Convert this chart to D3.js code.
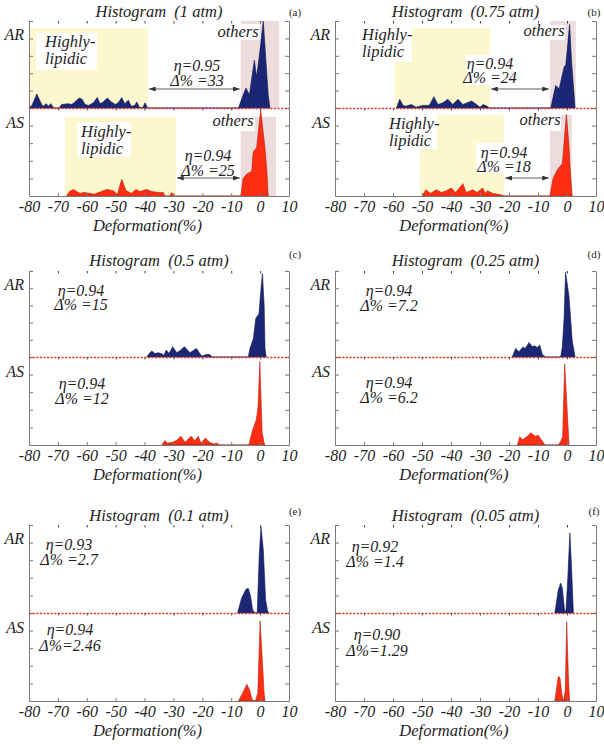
<!DOCTYPE html>
<html><head><meta charset="utf-8">
<script src="https://cdn.jsdelivr.net/npm/d3@7"></script>
<style>
body{margin:0;background:#fff;}
svg{display:block;}
text{font-family:"Liberation Serif","Times New Roman",serif;fill:#1e1e1e;}
</style>
</head><body>
<svg id="c" width="604" height="744"></svg>
<script>
// ---------------- data ----------------
const xTicks = [-80,-70,-60,-50,-40,-30,-20,-10,0,10];
const pressures = ["1 atm","0.75 atm","0.5 atm","0.25 atm","0.1 atm","0.05 atm"];
const letters = ["(a)","(b)","(c)","(d)","(e)","(f)"];
const seriesNames = ["AR","AS"];
const etaAR = [0.95,0.94,0.94,0.94,0.93,0.92];
const deltaAR = [33,24,15,7.2,2.7,1.4];
const etaAS = [0.94,0.94,0.94,0.94,0.94,0.90];
const deltaAS = [25,18,12,6.2,2.46,1.29];

// histogram profiles: [deformation %, relative frequency]
const arA = [[-80,0],[-79,0.03],[-77.3,0.16],[-75.6,0.04],[-75,0.02],[-74.1,0.05],[-73.2,0.02],[-72.5,0.05],[-71.4,0],[-69.6,0],[-68.7,0.04],[-66.4,0.05],[-65.2,0.04],[-64.1,0.07],[-62.6,0.115],[-61.6,0.1],[-60.6,0.04],[-59.4,0.03],[-57.7,0.06],[-56.4,0.12],[-55.4,0.05],[-54.3,0.07],[-52.9,0.115],[-51.5,0.07],[-50,0.04],[-48.9,0.07],[-47.9,0.12],[-46.9,0.05],[-45.6,0.09],[-44.6,0.02],[-43.4,0.03],[-42.7,0.07],[-41.8,0.01],[-40.7,0],[-39.8,0.06],[-39,0],[-7.5,0],[-6.2,0.12],[-4.9,0.23],[-3.7,0.15],[-2,0.55],[-1.2,0.36],[-0.2,0.62],[1.1,1.0],[2.8,0.15],[3.4,0]];
const asA = [[-67,0],[-66,0.05],[-64.7,0.075],[-63.5,0.05],[-62.3,0.03],[-61,0.04],[-59,0.03],[-57.5,0.02],[-55.4,0.045],[-53.1,0.075],[-50.8,0.06],[-49.4,0.02],[-47.9,0.19],[-46.4,0.06],[-44.5,0.03],[-43,0.075],[-41.5,0.05],[-39.4,0.075],[-37.5,0.05],[-35,0.04],[-33.5,0.04],[-33,0],[-31.3,0],[-30.6,0.04],[-29.8,0],[-6.7,0],[-5.9,0.2],[-4.6,0.25],[-2.9,0.28],[-2.4,0.5],[-1.2,0.55],[0.2,0.98],[1.7,0.54],[2.3,0.3],[2.8,0]];
const arB = [[-58.8,0],[-57.7,0.1],[-56.5,0.03],[-55.7,0.02],[-53.7,0.04],[-52,0.01],[-49.8,0.03],[-47.5,0.03],[-45.9,0.13],[-44.5,0.04],[-42.8,0.06],[-41.1,0.1],[-39.4,0.04],[-37.6,0.1],[-35.9,0.04],[-32.9,0.08],[-31.2,0.04],[-30,0.01],[-28.9,0.04],[-27.5,0.02],[-26.8,0],[-5.6,0],[-3.9,0.26],[-2.7,0.22],[-1,0.47],[-0.4,0.5],[0.9,0.96],[1.6,0.52],[2.8,0]];
const asB = [[-49.9,0],[-48.7,0.07],[-47.1,0.03],[-45,0.07],[-43.3,0.04],[-41.6,0.06],[-39.9,0.09],[-38.4,0.04],[-35.9,0.14],[-34.8,0.04],[-32.5,0.07],[-31,0.04],[-29.1,0.09],[-28.2,0.03],[-27.4,0.06],[-25.7,0.03],[-24,0.02],[-22.3,0.01],[-21.9,0],[-5.9,0],[-4.8,0.2],[-3.3,0.3],[-1.6,0.37],[-0.2,0.93],[0.7,0.56],[1.2,0.25],[1.8,0]];
const arC = [[-39.2,0],[-38.4,0.04],[-37.5,0.07],[-36.4,0.04],[-35.3,0.05],[-34.2,0.04],[-33.3,0.02],[-32.5,0.08],[-31.5,0.04],[-30.3,0.12],[-28.8,0.05],[-27.5,0.08],[-26.2,0.12],[-24.3,0.05],[-22,0.1],[-20.9,0.04],[-20,0.01],[-18.8,0.03],[-17.6,0.03],[-16.5,0],[-4.1,0],[-3.5,0.1],[-2.3,0.22],[-1.5,0.45],[-0.4,0.5],[0.2,0.75],[0.8,0.97],[1.4,0.6],[1.7,0.1],[2.1,0]];
const asC = [[-34,0],[-33,0.05],[-32,0.02],[-30.5,0.03],[-29,0.05],[-27.4,0.1],[-26,0.03],[-23.9,0.1],[-22.6,0.05],[-21.4,0.1],[-20.5,0.02],[-18.9,0.08],[-17.5,0.03],[-16,0.01],[-14.8,0.02],[-14.1,0],[-3.9,0],[-2.7,0.16],[-1.3,0.29],[-0.7,0.44],[-0.1,0.95],[0.7,0.14],[1.3,0.04],[1.6,0]];
const arD = [[-18.9,0],[-17.7,0.1],[-16.6,0.06],[-15.2,0.115],[-14.4,0.1],[-13.1,0.17],[-12,0.12],[-11.1,0.13],[-10.3,0.11],[-9.4,0.14],[-8.5,0.03],[-7.4,0],[-2.2,0],[-1.6,0.12],[-1,0.46],[-0.5,0.99],[0.7,0.7],[1.8,0.19],[2.8,0]];
const asD = [[-17.1,0],[-16.3,0.095],[-15.4,0.06],[-13.6,0.1],[-12.5,0.14],[-11,0.1],[-9.9,0.11],[-9.1,0.07],[-7.6,0],[-3,0],[-2.2,0.04],[-1.5,0.095],[-0.8,0.92],[0.1,0.37],[0.7,0]];
const arE = [[-7.8,0],[-6.4,0.17],[-4.9,0.27],[-4.1,0.28],[-3.3,0.19],[-2.6,0.04],[-1.8,0],[-1,0],[-0.3,0.65],[0.3,0.98],[1.1,0.72],[1.9,0.15],[2.6,0.02],[3.2,0]];
const asE = [[-7.5,0],[-6,0.095],[-4.6,0.19],[-3.7,0.13],[-2.7,0.01],[-1.6,0],[-0.8,0.095],[0,0.91],[0.8,0.44],[1.4,0.08],[1.7,0]];
const arF = [[-4.2,0],[-3,0.26],[-2.2,0.34],[-1.6,0.28],[-0.9,0.05],[-0.4,0],[0.2,0.35],[1,0.91],[1.6,0.49],[2.2,0]];
const asF = [[-4.2,0],[-3,0.28],[-2.4,0.26],[-1.8,0.08],[-1.2,0],[-0.6,0.12],[-0.1,0.9],[0.5,0.25],[0.9,0]];

// shaded ranges (deformation %) for panels (a) and (b)
const lipidicAR = [[-80,-38.8],[-59.4,-26.5]];
const lipidicAS = [[-67.5,-29.1],[-50.6,-21.6]];
const othersAR = [[-6.7,6.6],[-5.9,3.0]];
const othersAS = [[-6.7,5.5],[-5.9,1.6]];

const arSeries = [arA,arB,arC,arD,arE,arF];
const asSeries = [asA,asB,asC,asD,asE,asF];

// ---------------- layout / style ----------------
const FONT = "Liberation Serif";
const cols = [{x0:29,x1:289,letterDx:6},{x0:335,x1:596,letterDx:-2}];
const rows = [
  {top:21,mid:108,bot:196,letterY:16,titleY:17},
  {top:271,mid:357,bot:445,letterY:258,titleY:266},
  {top:525,mid:613,bot:701,letterY:515,titleY:521}
];
const notes = [
  {eAR:[168,50,65], eAS:[179,53,68], hAR:{x:16,y:[26,43],bg:[7,12,61,37]}, hAS:{x:52,y:[29,46],bg:[48,14,54,35]},
   oAR:{x:209,y:16,bg:[184,3,47,16]}, oAS:{x:204,y:18,bg:[184,7,42,16]}, arrowAR:68, arrowAS:70, boxAR:0.92, boxAS:0.9},
  {eAR:[155,48,62], eAS:[169,50,64], hAR:{x:27,y:[19,36],bg:[26,6,51,35]}, hAS:{x:54,y:[21,38],bg:[53,7,49,34]},
   oAR:{x:209,y:15,bg:[187,4,43,15]}, oAS:{x:205,y:17,bg:[184,7,42,16]}, arrowAR:68, arrowAS:70, boxAR:0.92, boxAS:0.92,
   eBgAR:[131,34,61,30], eBgAS:[141,35,60,30]},
  {eAR:[52,25,39], eAS:[53,32,47]},
  {eAR:[54,25,40], eAS:[54,31,46]},
  {eAR:[40,25,40], eAS:[41,22,38]},
  {eAR:[40,27,42], eAS:[42,27,43]}
];
const COL = {arFill:"#1b2674", arStroke:"#0e164d", asFill:"#ff2e12", asStroke:"#a8200f",
             yellow:"#fcf7cc", pink:"#ecdcdc", axis:"#7a7a7a", mid:"#e8392e"};

const svg = d3.select("#c");
const defs = svg.append("defs");
defs.append("marker").attr("id","ah").attr("viewBox","0 0 8 6").attr("refX",8).attr("refY",3)
  .attr("markerWidth",7).attr("markerHeight",5).attr("markerUnits","userSpaceOnUse")
  .attr("orient","auto-start-reverse")
  .append("path").attr("d","M0,0 L8,3 L0,6 Z").attr("fill","#333");

const fmtDelta = v => (String(v).length > 3 ? "\u0394%=" : "\u0394% =") + v;
const txt = (sel, x, y, size, italic) => sel.append("text").attr("x", x).attr("y", y)
  .attr("font-family", FONT).attr("font-size", size).attr("font-style", italic ? "italic" : "normal");

arSeries.forEach((arData, i) => {
  const c = cols[i % 2], r = rows[Math.floor(i / 2)], n = notes[i];
  const asData = asSeries[i];
  const x = d3.scaleLinear().domain([-80,10]).range([c.x0, c.x1]);
  const yAR = d3.scaleLinear().domain([0,1]).range([r.mid, r.top]);
  const yAS = d3.scaleLinear().domain([0,1]).range([r.bot, r.mid]);
  const g = svg.append("g");

  // shaded boxes
  if (i < 2) {
    const box = (rng, y, topV, fill) => g.append("rect")
      .attr("x", x(rng[0])).attr("width", x(rng[1]) - x(rng[0]))
      .attr("y", y(topV)).attr("height", y(0) - y(topV)).attr("fill", fill);
    box(lipidicAR[i], yAR, n.boxAR, COL.yellow);
    box(othersAR[i], yAR, 1, COL.pink);
    box(lipidicAS[i], yAS, n.boxAS, COL.yellow);
    box(othersAS[i], yAS, n.boxAS, COL.pink);
  }

  // histogram areas
  const areaAR = d3.area().x(d => x(d[0])).y0(yAR(0)).y1(d => yAR(d[1]));
  const areaAS = d3.area().x(d => x(d[0])).y0(yAS(0)).y1(d => yAS(d[1]));
  g.append("path").datum(arData).attr("d", areaAR).attr("fill", COL.arFill)
    .attr("stroke", COL.arStroke).attr("stroke-width", 0.6).attr("stroke-linejoin","round");
  g.append("path").datum(asData).attr("d", areaAS).attr("fill", COL.asFill)
    .attr("stroke", COL.asStroke).attr("stroke-width", 0.6).attr("stroke-linejoin","round");

  const bg = (b, y0) => g.append("rect").attr("x", c.x0 + b[0]).attr("y", y0 + b[1])
      .attr("width", b[2]).attr("height", b[3]).attr("fill", "#fff");

  // labels inside panels (a),(b)
  if (i < 2) {
    bg(n.hAR.bg, r.top); bg(n.hAS.bg, r.mid); bg(n.oAR.bg, r.top); bg(n.oAS.bg, r.mid);
    if (n.eBgAR) { bg(n.eBgAR, r.top); bg(n.eBgAS, r.mid); }
    [[n.hAR, r.top],[n.hAS, r.mid]].forEach(([h, y0]) => {
      const t = txt(g, c.x0 + h.x, y0 + h.y[0], 16.5, true);
      t.append("tspan").attr("x", c.x0 + h.x).text("Highly-");
      t.append("tspan").attr("x", c.x0 + h.x).attr("dy", h.y[1] - h.y[0]).text("lipidic");
    });
    [[n.oAR, r.top],[n.oAS, r.mid]].forEach(([o, y0]) =>
      txt(g, c.x0 + o.x, y0 + o.y, 16.5, true).attr("text-anchor","middle").text("others"));
    // arrows between shaded regions
    g.append("line").attr("x1", x(lipidicAR[i][1]) + 1).attr("x2", x(othersAR[i][0]) - 1)
      .attr("y1", r.top + n.arrowAR).attr("y2", r.top + n.arrowAR)
      .attr("stroke","#333").attr("stroke-width",0.8).attr("marker-start","url(#ah)").attr("marker-end","url(#ah)");
    g.append("line").attr("x1", x(lipidicAS[i][1]) + 1).attr("x2", x(othersAS[i][0]) - 1)
      .attr("y1", r.mid + n.arrowAS).attr("y2", r.mid + n.arrowAS)
      .attr("stroke","#333").attr("stroke-width",0.8).attr("marker-start","url(#ah)").attr("marker-end","url(#ah)");
  }

  // eta / delta annotations (two lines in one text)
  const stat = (e, y0, eta, delta) => {
    const t = txt(g, c.x0 + e[0], y0 + e[1], 16, true).attr("text-anchor","middle");
    t.append("tspan").attr("x", c.x0 + e[0]).text("\u03b7=" + eta.toFixed(2));
    t.append("tspan").attr("x", c.x0 + e[0]).attr("dy", e[2] - e[1]).text(fmtDelta(delta));
  };
  stat(n.eAR, r.top, etaAR[i], deltaAR[i]);
  stat(n.eAS, r.mid, etaAS[i], deltaAS[i]);

  // axes
  const styleAxis = sel => { sel.selectAll("path,line").attr("stroke", COL.axis); };
  const fracTicks = [0.2,0.4,0.6,0.8,1];
  [yAR, yAS].forEach(ys => {
    g.append("g").attr("transform",`translate(${c.x0},0)`)
      .call(d3.axisLeft(ys).tickValues(fracTicks).tickSizeInner(-4).tickSizeOuter(0).tickFormat(""))
      .call(styleAxis);
    g.append("g").attr("transform",`translate(${c.x1},0)`)
      .call(d3.axisRight(ys).tickValues(fracTicks).tickSizeInner(-4).tickSizeOuter(0).tickFormat(""))
      .call(styleAxis);
  });
  g.append("g").attr("transform",`translate(0,${r.top})`)
    .call(d3.axisTop(x).tickValues(xTicks.slice(1,-1)).tickSizeInner(-2.5).tickSizeOuter(0).tickFormat(""))
    .call(a => a.select(".domain").remove())
    .selectAll("line").attr("stroke","#444");
  const bottom = g.append("g").attr("transform",`translate(0,${r.bot})`)
    .call(d3.axisBottom(x).tickValues(xTicks).tickSizeInner(-3).tickSizeOuter(0).tickPadding(4.5)
      .tickFormat(d => String(d)))
    .call(styleAxis);
  bottom.selectAll("text").attr("font-size", 16).attr("font-style","italic")
    .attr("font-family", FONT).attr("fill","#1e1e1e");

  // middle separator (red dashed) with small ticks
  g.append("line").attr("x1", x(-80)).attr("x2", x(10)).attr("y1", r.mid + 0.5).attr("y2", r.mid + 0.5)
    .attr("stroke", COL.mid).attr("stroke-width", 1.3).attr("stroke-dasharray","2.2,1.4");
  g.append("g").attr("transform",`translate(0,${r.mid})`)
    .call(d3.axisBottom(x).tickValues(xTicks.slice(1,-1)).tickSizeInner(2.5).tickSizeOuter(0).tickFormat(""))
    .call(a => a.select(".domain").remove())
    .selectAll("line").attr("stroke","#555");

  // series labels
  txt(g, c.x0 - 5, r.top + 19, 16, true).attr("text-anchor","end").text(seriesNames[0]);
  txt(g, c.x0 - 5, r.mid + 20, 16, true).attr("text-anchor","end").text(seriesNames[1]);

  // title, panel letter, x-axis title
  txt(g, x(-35), r.titleY, 16.5, true).attr("text-anchor","middle")
    .style("white-space","pre").text("Histogram  (" + pressures[i] + ")");
  txt(g, c.x1 + c.letterDx, r.letterY, 11, false).attr("text-anchor","middle").text(letters[i]);
  txt(g, x(-39), r.bot + 35, 16.5, true).attr("text-anchor","middle").text("Deformation(%)");
});
</script>
</body></html>
